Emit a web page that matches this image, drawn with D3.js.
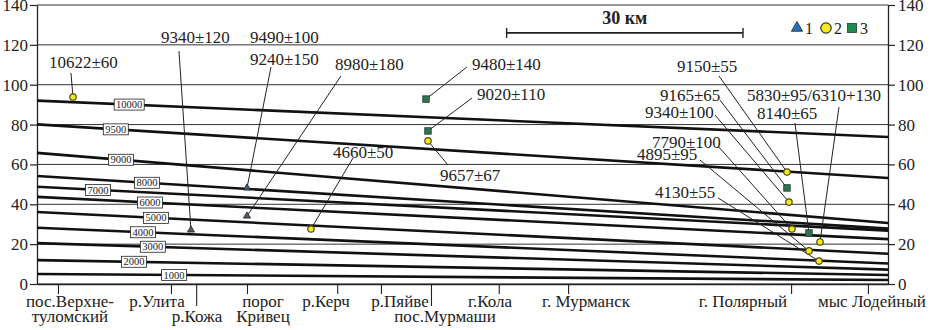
<!DOCTYPE html>
<html>
<head>
<meta charset="utf-8">
<script src="https://cdn.jsdelivr.net/npm/d3@7"></script>
<style>
    body { margin: 0; background: #fff; }
    text { font-family: "Liberation Serif", "Times New Roman", serif; fill: #222; }
</style>
</head>
<body>
<div id="chart"></div>
<script>

// isobases (age, elevation at left edge and right edge of profile)
let isoAges = [1000, 2000, 3000, 4000, 5000, 6000, 7000, 8000, 9000, 9500, 10000];
let isoLeft = [5.0, 12.0, 20.5, 28.2, 36.1, 43.7, 48.8, 54.2, 65.8, 80.1, 92.0];
let isoRight = [2.0, 4.5, 7.2, 10.3, 15.2, 22.5, 26.8, 27.8, 30.6, 53.2, 73.8];
let isoLabelKm = [17.4, 12.3, 14.7, 13.45, 15.1, 14.35, 7.75, 13.95, 10.65, 10.0, 11.7];

// places along the profile (km)
let placeNames = [["пос.Верхне-", "туломский"], ["р.Улита"], ["р.Кожа"], ["порог", "Кривец"], ["р.Керч"],
    ["р.Пяйве"], ["пос.Мурмаши"], ["г.Кола"], ["г. Мурманск"], ["г. Полярный"], ["мыс Лодейный"]];
let placeKm = [2.66, 17.0, 20.2, 26.65, 38.1, 43.65, 50.0, 58.6, 67.4, 95.7, 105.45];

// dated samples: 1 - triangle, 2 - circle, 3 - square
let sampleDates = ["10622±60", "9340±120", "9490±100\n9240±150", "8980±180", "4660±50", "9480±140", "9020±110",
    "9657±67", "9150±55", "9165±65", "9340±100", "7790±100", "4895±95", "4130±55", "8140±65", "5830±95/6310+130"];
let sampleType = [2, 1, 1, 1, 2, 3, 3, 2, 2, 3, 2, 2, 2, 2, 3, 2];
let sampleKm = [4.57, 19.54, 26.65, 26.65, 34.77, 49.37, 49.62, 49.62, 95.18, 95.18, 95.43, 95.81, 97.97, 99.24, 97.97, 99.37];
let sampleElev = [93.8, 27.1, 48.2, 34.1, 27.6, 92.8, 76.8, 71.8, 56.2, 48.2, 41.1, 27.6, 16.6, 11.5, 25.6, 21.1];

let yTicks = [0, 20, 40, 60, 80, 100, 120, 140];

// annotation layout (data units): label start + baseline, leader start
let labelAt = [[1.52, 108.4], [15.74, 120.9], [27.03, 120.9], [37.82, 107.4], [37.56, 63.2], [55.2, 107.4], [55.84, 92.3],
    [51.14, 51.7], [81.22, 106.4], [79.06, 91.8], [77.16, 83.3], [78.05, 68.2], [76.14, 62.2], [78.43, 43.2], [91.37, 82.8], [90.1, 91.8]];
let leaderAt = [[4.31, 105.9], [18.02, 116.9], [29.7, 108.9], [38.58, 104.4], [40.1, 63.2], [54.57, 108.9], [55.2, 93.3],
    [52.16, 59.7], [86.55, 104.4], [86.68, 92.3], [86.04, 84.8], [86.42, 69.2], [84.14, 62.2], [86.42, 43.2], [96.19, 80.8], [101.78, 88.8]];
let placeLabelKm = [4.19, 15.23, 20.3, 28.68, 36.68, 46.07, 51.78, 57.49, 69.67, 89.59, 105.96];
let placeRow = [1, 1, 2, 1, 1, 1, 2, 1, 1, 1, 1];

let width = 930, height = 330;
let margin = {top: 5, right: 42, bottom: 46, left: 37};

let svg = d3.select("#chart").append("svg")
    .attr("width", width)
    .attr("height", height)
    .style("background", "#fff");

let x = d3.scaleLinear().domain([0, 108]).range([margin.left, width - margin.right]);
let y = d3.scaleLinear().domain([0, 140]).range([height - margin.bottom, margin.top]);

// grid lines
svg.append("g").selectAll("line")
    .data(yTicks)
    .enter().append("line")
    .attr("x1", x(0)).attr("x2", x(108))
    .attr("y1", d => y(d)).attr("y2", d => y(d))
    .attr("stroke", "#333")
    .attr("stroke-width", 1);

// axes
let leftAxis = svg.append("g")
    .attr("transform", `translate(${x(0)},0)`)
    .call(d3.axisLeft(y).tickValues(yTicks).tickSize(7).tickSizeOuter(0));
let rightAxis = svg.append("g")
    .attr("transform", `translate(${x(108)},0)`)
    .call(d3.axisRight(y).tickValues(yTicks).tickSize(7).tickSizeOuter(0));
[leftAxis, rightAxis].forEach(a => {
    a.select(".domain").attr("stroke", "#222").attr("stroke-width", 1.3);
    a.selectAll(".tick line").attr("stroke", "#222").attr("stroke-width", 1.2);
    a.selectAll(".tick text")
        .attr("font-size", 17)
        .attr("font-family", "Liberation Serif, serif")
        .attr("fill", "#222");
});
leftAxis.selectAll(".tick text").attr("x", -9);
rightAxis.selectAll(".tick text").attr("x", 10);

let bottomAxis = svg.append("g")
    .attr("transform", `translate(0,${y(0)})`)
    .call(d3.axisBottom(x).tickValues(placeKm).tickFormat("").tickSize(10).tickSizeOuter(0));
bottomAxis.select(".domain").attr("stroke", "#222").attr("stroke-width", 1.3);
bottomAxis.selectAll(".tick line")
    .attr("stroke", "#222")
    .attr("stroke-width", 1.1)
    .attr("y2", (d, i) => placeRow[i] === 2 ? 22 : 10);

// place names
placeNames.forEach((lines, i) => {
    let t = svg.append("text")
        .attr("text-anchor", "middle")
        .attr("font-size", 17)
        .attr("x", x(placeLabelKm[i]))
        .attr("y", y(0) + (placeRow[i] === 2 ? 38 : 23));
    lines.forEach((s, j) => {
        t.append("tspan")
            .attr("x", x(placeLabelKm[i]))
            .attr("dy", j === 0 ? 0 : 15)
            .text(s);
    });
});

// isobases
let isoLine = d3.line().x(d => x(d[0])).y(d => y(d[1]));
svg.append("g").selectAll("path")
    .data(isoAges)
    .enter().append("path")
    .attr("d", (d, i) => isoLine([[0, isoLeft[i]], [108, isoRight[i]]]))
    .attr("fill", "none")
    .attr("stroke", "#111")
    .attr("stroke-width", 2.6);

// isobase labels
let isoLabels = svg.append("g").selectAll("g")
    .data(isoAges)
    .enter().append("g")
    .attr("transform", (d, i) => {
        let km = isoLabelKm[i];
        let v = isoLeft[i] + (isoRight[i] - isoLeft[i]) * km / 108;
        return `translate(${x(km)},${y(v)})`;
    });
isoLabels.append("rect")
    .attr("x", d => d >= 10000 ? -15 : -12.5)
    .attr("y", -5.5)
    .attr("width", d => d >= 10000 ? 30 : 25)
    .attr("height", 11)
    .attr("fill", "#fff")
    .attr("stroke", "#222")
    .attr("stroke-width", 0.8);
isoLabels.append("text")
    .attr("text-anchor", "middle")
    .attr("y", 3.6)
    .attr("font-size", 10.5)
    .text(d => d);

// leader lines
svg.append("g").selectAll("line")
    .data(sampleDates)
    .enter().append("line")
    .attr("x1", (d, i) => x(leaderAt[i][0]))
    .attr("y1", (d, i) => y(leaderAt[i][1]))
    .attr("x2", (d, i) => x(sampleKm[i]))
    .attr("y2", (d, i) => y(sampleElev[i]))
    .attr("stroke", "#222")
    .attr("stroke-width", 1);

// date labels
sampleDates.forEach((s, i) => {
    let t = svg.append("text")
        .attr("font-size", 17)
        .attr("x", x(labelAt[i][0]))
        .attr("y", y(labelAt[i][1]));
    s.split("\n").forEach((part, j) => {
        t.append("tspan")
            .attr("x", x(labelAt[i][0]))
            .attr("dy", j === 0 ? 0 : 22)
            .text(part);
    });
});

// markers
let symbolColors = {1: "#2a5d9a", 2: "#f6ea1c", 3: "#2f7350"};
function drawMarker(g, type, cx, cy, big) {
    if (type === 1) {
        g.append("path")
            .attr("d", d3.symbol().type(d3.symbolTriangle).size(big ? 55 : 22)())
            .attr("transform", `translate(${cx},${cy})`)
            .attr("fill", big ? "#1f74c0" : "#4a5b70")
            .attr("stroke", "#222")
            .attr("stroke-width", 0.8);
    } else if (type === 2) {
        g.append("circle")
            .attr("cx", cx).attr("cy", cy)
            .attr("r", big ? 5.2 : 3.2)
            .attr("fill", symbolColors[2])
            .attr("stroke", big ? "#333" : "#4b4a14")
            .attr("stroke-width", 1.2);
    } else {
        let s = big ? 9 : 6.5;
        g.append("rect")
            .attr("x", cx - s / 2).attr("y", cy - s / 2)
            .attr("width", s).attr("height", s)
            .attr("fill", big ? "#1c8a4e" : symbolColors[3])
            .attr("stroke", "#1d3d2c")
            .attr("stroke-width", 0.8);
    }
}
let markers = svg.append("g");
sampleDates.forEach((d, i) => drawMarker(markers, sampleType[i], x(sampleKm[i]), y(sampleElev[i]), false));

// scale bar 30 km
let barY = y(126);
let bar = svg.append("g");
bar.append("line")
    .attr("x1", x(59.6)).attr("x2", x(89.6))
    .attr("y1", barY).attr("y2", barY)
    .attr("stroke", "#222").attr("stroke-width", 1.6);
[59.6, 89.6].forEach(k => {
    bar.append("line")
        .attr("x1", x(k)).attr("x2", x(k))
        .attr("y1", barY - 5).attr("y2", barY + 5)
        .attr("stroke", "#222").attr("stroke-width", 1.4);
});
bar.append("text")
    .attr("x", x(74.6))
    .attr("y", barY - 9)
    .attr("text-anchor", "middle")
    .attr("font-size", 18)
    .attr("font-weight", "bold")
    .text("30 км");

// legend
let legend = svg.append("g");
let legendX = [797, 826, 852];
[1, 2, 3].forEach((t, i) => {
    drawMarker(legend, t, legendX[i], 28, true);
    legend.append("text")
        .attr("x", legendX[i] + 8)
        .attr("y", 34)
        .attr("font-size", 16)
        .text(t);
});

</script>
</body>
</html>
